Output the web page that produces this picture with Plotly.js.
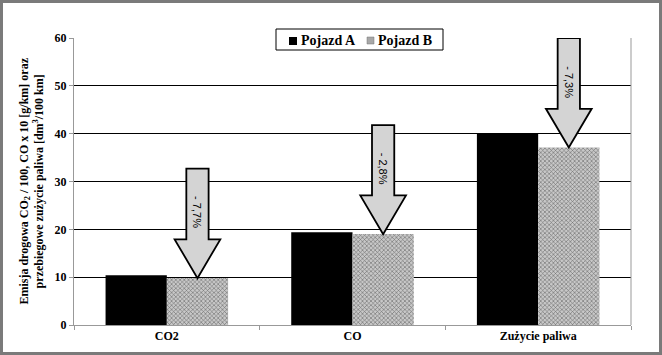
<!DOCTYPE html>
<html><head><meta charset="utf-8">
<script src="https://cdn.plot.ly/plotly-3.0.1.min.js"></script>
<style>
html,body{margin:0;padding:0;background:#fff;}
#wrap{position:relative;width:662px;height:355px;}
#chart{position:absolute;left:0;top:0;width:662px;height:355px;}
#frame{position:absolute;left:0;top:0;width:662px;height:355px;box-sizing:border-box;border:3px solid #7a7a7a;pointer-events:none;}
</style></head>
<body><div id="wrap"><div id="chart"></div><div id="frame"></div></div>
<script>
const categories = ['CO2', 'CO', 'Zużycie paliwa'];
const vehicleA = [10.4, 19.4, 40.0];
const vehicleB = [9.8, 19.0, 37.1];
const changeLabels = ['- 7,7%', '- 2,8%', '- 7,3%'];
const arrowTops = [32.7, 41.8, 60];
const seriesNames = ['Pojazd A', 'Pojazd B'];

const serif = 'Liberation Serif, Times New Roman, serif';
const W = 662, H = 355, ML = 74, MR = 31, MT = 38, MB = 30;
const PW = W - ML - MR, PH = H - MT - MB;
const px = v => (v - ML) / PW;
const py = v => (H - MB - v) / PH;

const barFrac = 0.33;
const shaftHalf = 0.06;
const headHalf = 0.123;
const headLen = 8.1;

const traces = [
  {type:'bar', name:seriesNames[0], x:categories, y:vehicleA, showlegend:false,
   marker:{color:'#000000', line:{width:0}}},
  {type:'bar', name:seriesNames[1], x:categories, y:vehicleB, showlegend:false,
   marker:{color:'#b4b4b4', line:{width:0},
     pattern:{shape:'x', size:3, solidity:0.35, fgcolor:'#6a6a6a', bgcolor:'#c8c8c8', fillmode:'replace'}}}
];

const shapes = [];
const annotations = [];
categories.forEach((c, i) => {
  const cx = i + barFrac / 2;
  const tip = vehicleB[i];
  const hs = tip + headLen;
  const top = arrowTops[i];
  const path = `M ${cx - shaftHalf} ${top} L ${cx + shaftHalf} ${top} L ${cx + shaftHalf} ${hs} L ${cx + headHalf} ${hs} L ${cx} ${tip} L ${cx - headHalf} ${hs} L ${cx - shaftHalf} ${hs} Z`;
  shapes.push({type:'path', xref:'x', yref:'y', path:path,
    fillcolor:'#d4d4d4', line:{color:'#000000', width:1.8}, layer:'above'});
  annotations.push({xref:'x', yref:'y', x:cx, y:(top + hs) / 2 - 1.8,
    text:changeLabels[i], textangle:90, showarrow:false,
    font:{family:'Liberation Sans, Arial, sans-serif', size:11, color:'#000', weight:'normal'}});
});
annotations.push({xref:'paper', yref:'paper', x:-0.077, y:0.5, xanchor:'center', yanchor:'middle',
  text:'Emisja drogowa CO<sub>2</sub> / 100, CO x 10 [g/km] oraz<br>przebiegowe zużycie paliwa [dm<sup>3</sup>/100 km]',
  textangle:-90, showarrow:false,
  font:{family:serif, size:12, color:'#000', weight:'bold'}});

// hand-drawn legend box (matches the compact legend of the reference)
shapes.push({type:'rect', xref:'paper', yref:'paper', x0:px(276), x1:px(443), y0:py(50), y1:py(29),
  fillcolor:'#ffffff', line:{color:'#000', width:1}, layer:'above'});
shapes.push({type:'rect', xref:'paper', yref:'paper', x0:px(289), x1:px(297), y0:py(45), y1:py(37),
  fillcolor:'#000000', line:{width:0}, layer:'above'});
shapes.push({type:'rect', xref:'paper', yref:'paper', x0:px(367), x1:px(374), y0:py(44), y1:py(37),
  fillcolor:'#a8a8a8', line:{color:'#777', width:0.5}, layer:'above'});
[[299, seriesNames[0]], [376, seriesNames[1]]].forEach(([x, t]) => {
  annotations.push({xref:'paper', yref:'paper', x:px(x), y:py(40.5), xanchor:'left', yanchor:'middle',
    text:t, showarrow:false, font:{family:serif, size:14, color:'#000', weight:'bold'}});
});

const layout = {
  width:W, height:H,
  margin:{l:ML, r:MR, t:MT, b:MB},
  paper_bgcolor:'#ffffff', plot_bgcolor:'#ffffff',
  barmode:'group', bargap:0.34, bargroupgap:0,
  font:{family:serif, color:'#000', weight:'bold'},
  showlegend:false,
  xaxis:{type:'category', tickson:'boundaries', ticks:'outside', ticklen:4, tickcolor:'#999',
    showline:true, linecolor:'#999', linewidth:1, showgrid:false,
    tickfont:{family:serif, size:12, color:'#000', weight:'bold'}, fixedrange:true},
  yaxis:{range:[0,60], dtick:10, ticks:'outside', ticklen:4, tickcolor:'#999',
    showline:true, linecolor:'#999', linewidth:1, mirror:false,
    showgrid:true, gridcolor:'#000000', gridwidth:1, zeroline:false,
    tickfont:{family:serif, size:12, color:'#000', weight:'bold'}},
  shapes:[
    {type:'line', xref:'paper', yref:'paper', x0:1, x1:1, y0:0, y1:1, line:{color:'#999', width:1}},
    ...shapes
  ],
  annotations:annotations
};

Plotly.newPlot('chart', traces, layout, {displayModeBar:false, staticPlot:true});
</script></body></html>
